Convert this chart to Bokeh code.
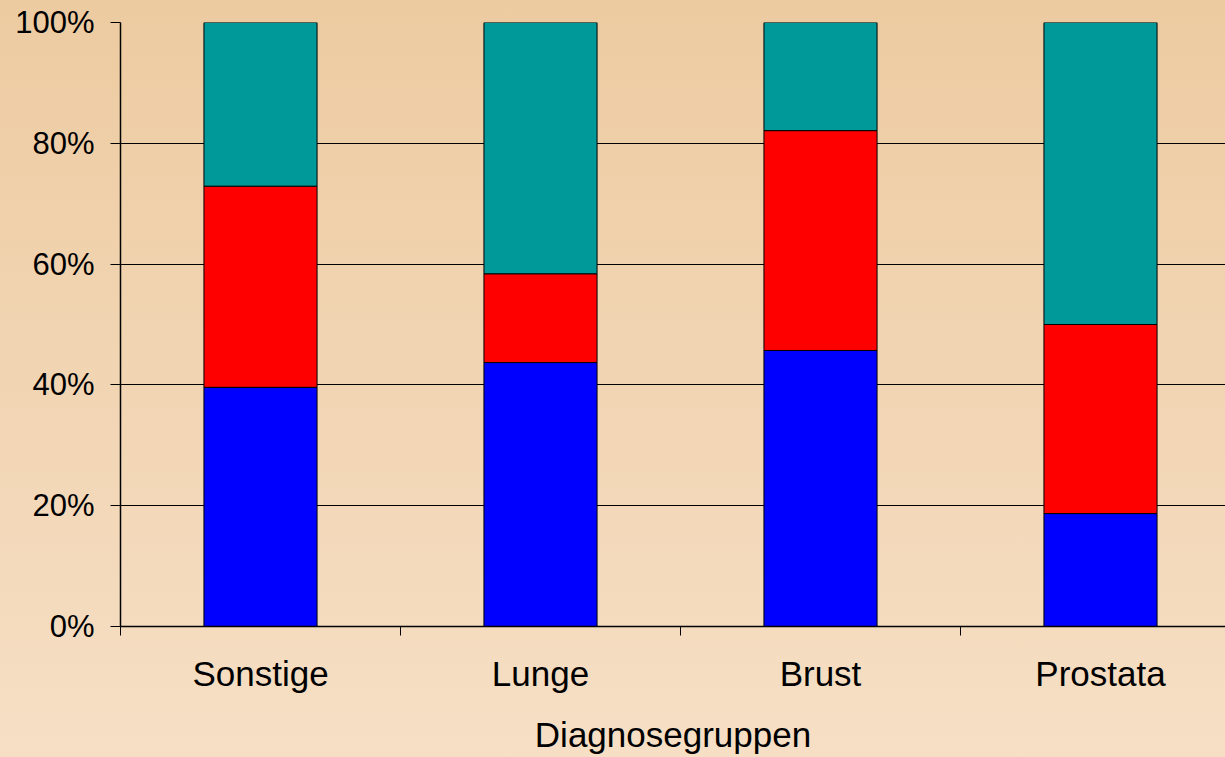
from bokeh.plotting import figure
from bokeh.models import ColumnDataSource, Range1d, FixedTicker, PrintfTickFormatter
from bokeh.embed import file_html
from bokeh.resources import INLINE

# ---- data (percent shares per diagnosis group) ----
categories = ["Sonstige", "Lunge", "Brust", "Prostata"]
series_a = [39.6, 43.7, 45.7, 18.7]   # blue (bottom)
series_b = [33.3, 14.7, 36.4, 31.3]   # red (middle)
series_c = [27.1, 41.6, 17.9, 50.0]   # teal (top)
y_ticks = [0, 20, 40, 60, 80, 100]
x_title = "Diagnosegruppen"

FONT = "Liberation Sans"
W, H = 1225, 757
LEFT, TOP, BOTTOM = 120, 22, 131
CAT_PX = 280.0

xs = [i + 0.5 for i in range(len(categories))]
src = ColumnDataSource(dict(x=xs, a=series_a, b=series_b, c=series_c))

p = figure(width=W, height=H, output_backend="svg", toolbar_location=None,
           x_range=Range1d(0, (W - LEFT) / CAT_PX), y_range=Range1d(0, 100),
           min_border_left=LEFT, min_border_right=0, min_border_top=TOP,
           min_border_bottom=BOTTOM)

p.background_fill_color = None
p.border_fill_color = None
p.outline_line_color = None

p.vbar_stack(["a", "b", "c"], x="x", width=0.404, source=src,
             color=["#0000FF", "#FF0000", "#009999"],
             line_color="black", line_width=1)

# x axis: tick marks at category boundaries, labels at centres
xa = p.xaxis[0]
xa.ticker = FixedTicker(ticks=xs, minor_ticks=list(range(len(categories) + 1)))
xa.major_label_overrides = {x: c for x, c in zip(xs, categories)}
xa.major_tick_line_color = None
xa.major_tick_out = 0
xa.major_tick_in = 0
xa.minor_tick_out = 9
xa.minor_tick_in = 0
xa.minor_tick_line_color = "black"
xa.axis_line_color = "black"
xa.axis_line_width = 1.5
xa.major_label_text_font = FONT
xa.major_label_text_font_size = "35px"
xa.major_label_text_color = "black"
xa.major_label_standoff = 18
xa.axis_label = x_title
xa.axis_label_text_font = FONT
xa.axis_label_text_font_size = "35px"
xa.axis_label_text_font_style = "normal"
xa.axis_label_text_color = "black"
xa.axis_label_standoff = 19

ya = p.yaxis[0]
ya.ticker = FixedTicker(ticks=y_ticks)
ya.formatter = PrintfTickFormatter(format="%d%%")
ya.minor_tick_line_color = None
ya.major_tick_out = 10
ya.major_tick_in = 0
ya.major_tick_line_color = "black"
ya.axis_line_color = "black"
ya.axis_line_width = 1.5
ya.major_label_text_font = FONT
ya.major_label_text_font_size = "31px"
ya.major_label_text_color = "black"
ya.major_label_standoff = 16

p.xgrid.grid_line_color = None
p.ygrid.grid_line_color = "black"
p.ygrid.grid_line_width = 1.2
p.ygrid.ticker = FixedTicker(ticks=y_ticks)

html = file_html(p, INLINE)
style = ("<style>html{min-height:100%;background:linear-gradient(to bottom,"
         "#EDCBA1 0%,#F6DFC5 100%) no-repeat;background-color:#F6DFC5;}</style>")
html = html.replace("<head>", "<head>" + style, 1)
open("out.html", "w").write(html)
